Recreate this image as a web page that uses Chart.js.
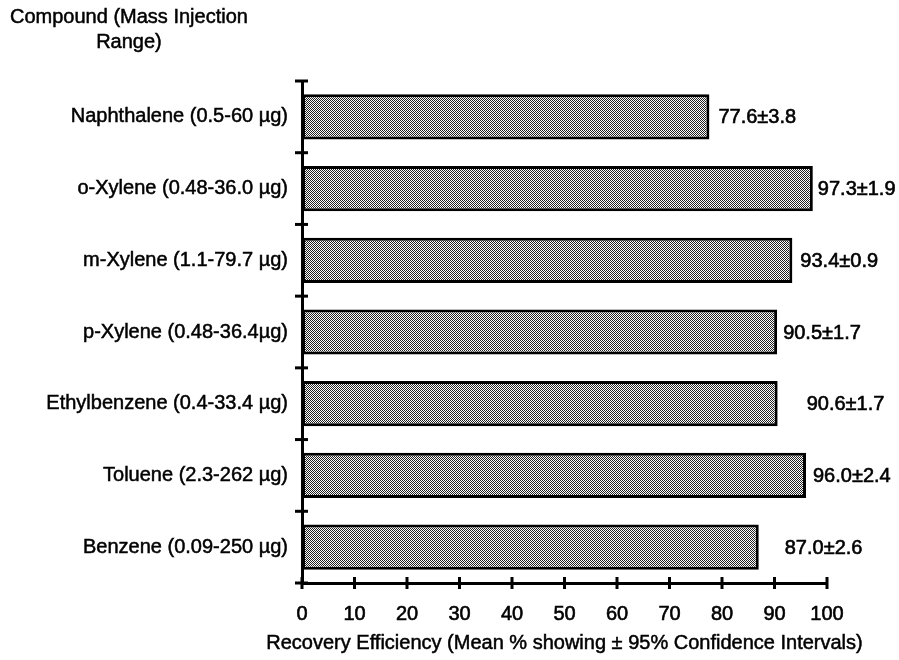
<!DOCTYPE html>
<html>
<head>
<meta charset="utf-8">
<script src="https://cdn.jsdelivr.net/npm/chart.js@4.4.1/dist/chart.umd.min.js"></script>
<style>
  html, body { margin: 0; padding: 0; background: #fff; overflow: hidden; }
  #wrap { position: relative; width: 899px; height: 660px; }
  #cat-title {
    position: absolute; left: 10px; top: 4px;
    font: 20px "Liberation Sans", Arial, sans-serif; color: #000;
    -webkit-text-stroke: 0.5px #000;
    text-align: center; line-height: 25px;
  }
  canvas { display: block; }
</style>
</head>
<body>
<div id="wrap">
  <canvas id="grafico" width="899" height="660"></canvas>
  <div id="cat-title">Compound (Mass Injection<br>Range)</div>
</div>
<script>
const compuestos = [
  'Naphthalene (0.5-60 µg)',
  'o-Xylene (0.48-36.0 µg)',
  'm-Xylene (1.1-79.7 µg)',
  'p-Xylene (0.48-36.4µg)',
  'Ethylbenzene (0.4-33.4 µg)',
  'Toluene (2.3-262 µg)',
  'Benzene (0.09-250 µg)'
];
const recuperacion = [77.6, 97.3, 93.4, 90.5, 90.6, 96.0, 87.0];
const intervalo = [3.8, 1.9, 0.9, 1.7, 1.7, 2.4, 2.6];
const ticksX = [0, 10, 20, 30, 40, 50, 60, 70, 80, 90, 100];
const tituloX = 'Recovery Efficiency (Mean % showing ± 95% Confidence Intervals)';

const FAMILIA = '"Liberation Sans", Arial, sans-serif';
const FUENTE = { family: FAMILIA, size: 20 };

// trama punteada de las barras
function trama() {
  const c = document.createElement('canvas');
  c.width = 2; c.height = 2;
  const g = c.getContext('2d');
  g.fillStyle = '#fff'; g.fillRect(0, 0, 2, 2);
  g.fillStyle = '#222'; g.fillRect(0, 0, 1, 1); g.fillRect(1, 1, 1, 1);
  return g.createPattern(c, 'repeat');
}

// marcas que cruzan los ejes + titulo del eje x
const marcasEjes = {
  id: 'marcasEjes',
  afterDraw(chart) {
    const { ctx, scales: { x, y } } = chart;
    ctx.save();
    ctx.strokeStyle = '#000';
    ctx.lineWidth = 3;
    ticksX.forEach(v => {
      const px = x.getPixelForValue(v);
      ctx.beginPath(); ctx.moveTo(px, y.bottom - 6); ctx.lineTo(px, y.bottom + 6); ctx.stroke();
    });
    const n = compuestos.length;
    for (let i = 0; i <= n; i++) {
      const py = y.top + (y.bottom - y.top) * i / n;
      ctx.beginPath(); ctx.moveTo(x.left - 7, py); ctx.lineTo(x.left + 6, py); ctx.stroke();
    }
    ctx.fillStyle = '#000';
    ctx.lineWidth = 0.5;
    ctx.font = `20px ${FAMILIA}`;
    ctx.textAlign = 'center';
    ctx.textBaseline = 'middle';
    const cx = (x.left + x.right) / 2;
    ctx.fillText(tituloX, cx, 643);
    ctx.strokeText(tituloX, cx, 643);
    ctx.restore();
  }
};

// texto de media ± IC a la derecha de cada barra
const etiquetas = {
  id: 'etiquetas',
  afterDatasetsDraw(chart, args, opts) {
    const { ctx } = chart;
    const meta = chart.getDatasetMeta(0);
    ctx.save();
    ctx.fillStyle = '#000';
    ctx.strokeStyle = '#000';
    ctx.lineWidth = 0.6;
    ctx.font = `20px "Liberation Sans Narrow", ${FAMILIA}`;
    ctx.textAlign = 'left';
    ctx.textBaseline = 'middle';
    meta.data.forEach((bar, i) => {
      const txt = recuperacion[i].toFixed(1) + '±' + intervalo[i].toFixed(1);
      const tx = bar.x + opts.separacion[i], ty = bar.y + 1;
      ctx.fillText(txt, tx, ty);
      ctx.strokeText(txt, tx, ty);
    });
    ctx.restore();
  }
};

new Chart(document.getElementById('grafico'), {
  type: 'bar',
  data: {
    labels: compuestos,
    datasets: [{
      data: recuperacion,
      backgroundColor: trama(),
      borderColor: '#000',
      borderWidth: 3,
      borderSkipped: false,
      categoryPercentage: 1,
      barPercentage: 0.63
    }]
  },
  options: {
    indexAxis: 'y',
    responsive: false,
    animation: false,
    layout: { padding: { top: 81, right: 72, bottom: 0, left: 0 } },
    plugins: {
      legend: { display: false },
      tooltip: { enabled: false },
      etiquetas: { separacion: [9, 5, 8, 6, 29, 7, 26] }
    },
    scales: {
      x: {
        min: 0, max: 100,
        afterFit: s => { s.height = 77; },
        afterBuildTicks: s => { s.ticks = ticksX.map(v => ({ value: v })); },
        grid: { display: false, drawTicks: false },
        border: { display: true, color: '#000', width: 3 },
        ticks: { color: '#000', font: FUENTE, padding: 19,
                 textStrokeColor: '#000', textStrokeWidth: 0.6 }
      },
      y: {
        afterFit: s => { s.width = 302; },
        grid: { display: false, drawTicks: false },
        border: { display: true, color: '#000', width: 3 },
        ticks: { color: '#000', font: FUENTE, padding: 14,
                 textStrokeColor: '#000', textStrokeWidth: 0.5 }
      }
    }
  },
  plugins: [marcasEjes, etiquetas]
});
</script>
</body>
</html>
